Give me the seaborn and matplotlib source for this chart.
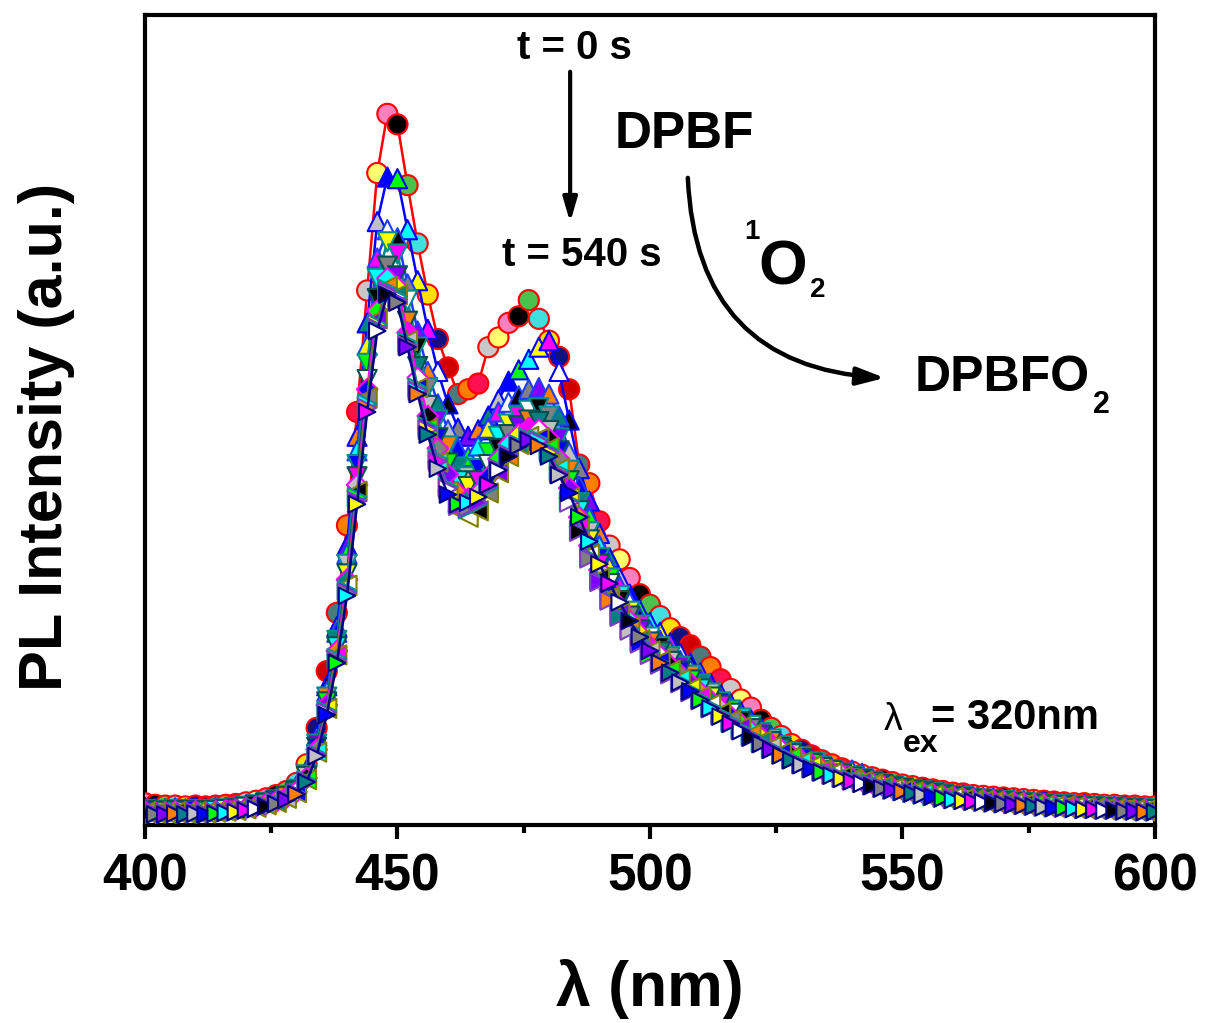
import numpy as np
import pandas as pd
import seaborn as sns
import matplotlib.pyplot as plt
from matplotlib.ticker import MultipleLocator

# ---------------- data (PL intensity, arbitrary units) ----------------
wavelength = np.arange(400, 601, 2)

t0 = [27,25,24,24,23,24,23,24,25,26,28,30,33,37,42,
      52,75,120,190,262,370,510,660,805,878,865,790,718,655,600,565,532,538,545,590,
      602,620,628,648,625,598,578,538,445,422,375,345,328,305,285,272,258,243,232,222,
      208,195,180,168,155,145,130,120,110,100,93,
      86,80,75,70,66,62,59,56,53,50,48,46,44,42,40,39,37,36,35,34,33,32,31,30,29,28,27,27,26,25,25,24,24,23,23]
t60 = [22,21,20,21,20,21,20,21,22,23,25,27,30,34,39,
       48,68,110,172,245,345,480,620,745,800,798,735,672,612,560,520,490,480,488,505,
       525,548,562,575,590,598,560,500,440,400,360,330,305,285,265,250,238,225,212,200,
       188,175,162,150,140,130,120,110,100,92,86,
       80,75,70,66,62,59,56,53,50,48,46,44,42,40,38,37,35,34,33,32,31,30,29,28,27,26,25,25,24,23,23,22,22,21,21]
t120 = [20,19,19,20,19,20,19,20,21,22,24,26,29,33,38,
        46,66,105,165,238,335,462,592,700,735,725,668,610,560,520,488,465,455,468,490,
        510,522,530,538,540,532,505,460,418,380,345,318,295,275,256,240,228,215,203,192,
        180,168,156,145,135,126,117,108,99,91,85,
        79,74,70,66,68,64,58,54,50,47,45,43,41,39,37,36,34,33,32,31,30,29,28,27,26,25,25,24,23,23,22,22,21,21,20]
t180 = [19,18,18,19,18,19,18,19,20,21,23,25,28,31,36,
        44,62,100,158,228,322,445,570,675,720,705,648,590,540,500,468,442,430,440,460,
        480,495,505,512,515,505,478,438,398,362,330,305,283,264,247,232,220,208,196,185,
        174,163,152,142,132,123,114,106,98,90,84,
        78,73,68,64,60,57,54,51,48,46,44,42,40,38,36,35,33,32,31,30,29,28,27,26,25,25,24,23,23,22,22,21,21,20,20]
t240 = [18,17,17,18,17,18,17,18,19,20,22,24,27,30,35,
        42,60,96,152,220,310,430,550,650,690,678,622,566,518,478,447,425,418,425,445,
        465,482,493,500,498,487,462,425,388,352,322,298,277,258,241,226,214,202,190,179,
        168,158,148,138,128,119,111,103,95,88,82,
        76,71,67,63,59,56,53,50,47,45,43,41,39,37,35,34,32,31,30,29,28,27,26,25,24,24,23,22,22,21,21,20,20,19,19]
t300 = [17,16,16,17,16,17,16,17,18,19,21,23,26,29,34,
        41,58,93,148,215,303,420,538,635,675,664,608,552,505,465,433,410,403,410,430,
        452,470,482,490,488,477,452,416,380,345,315,291,270,252,236,221,209,197,186,175,
        164,154,144,134,125,116,108,100,93,86,80,
        75,70,66,62,58,55,52,49,46,44,42,40,38,36,35,33,32,31,30,29,28,27,26,25,24,23,23,22,21,21,20,20,19,19,18]
t360 = [16,15,15,16,15,16,15,16,17,18,20,22,25,28,33,
        40,56,90,144,210,296,412,528,625,665,655,598,540,490,448,412,388,380,388,410,
        435,455,470,480,478,466,440,404,368,334,305,282,262,245,229,215,203,191,180,169,
        159,149,139,130,121,112,104,97,90,84,78,
        73,68,64,60,57,54,51,48,45,43,41,39,37,35,34,32,31,30,29,28,27,26,25,24,23,23,22,21,21,20,20,19,19,18,18]
t420 = [15,14,14,15,14,15,14,15,16,17,19,21,24,27,32,
        39,55,88,141,206,290,405,520,618,662,652,596,540,492,452,418,396,390,396,416,
        440,458,470,478,476,463,437,400,364,331,302,279,259,242,226,212,200,188,177,166,
        156,146,137,128,119,110,102,95,88,82,76,
        71,67,63,59,56,53,50,47,44,42,40,38,36,34,33,31,30,29,28,27,26,25,24,23,22,22,21,20,20,19,19,18,18,17,17]
t480 = [16,15,15,15,15,16,15,15,16,17,19,21,24,27,32,
        39,54,87,139,203,287,400,515,614,658,648,592,536,488,449,415,394,392,398,418,
        440,457,468,476,474,460,434,398,362,329,300,277,257,240,224,210,198,186,175,164,
        154,144,135,126,117,109,101,94,87,81,75,
        70,66,62,58,55,52,49,46,44,42,40,38,36,34,32,31,30,29,28,27,26,25,24,23,22,21,21,20,20,19,19,18,18,17,17]
t540 = [14,13,13,14,13,14,13,14,15,16,18,20,23,26,31,
        38,53,85,136,200,283,396,510,610,655,645,590,532,482,440,408,396,398,405,420,
        438,455,468,475,468,455,432,410,380,350,322,298,275,252,232,215,200,188,176,165,
        154,144,134,125,116,108,100,93,86,80,74,
        69,65,61,57,54,51,48,45,43,41,39,37,35,33,31,30,29,28,27,26,25,24,23,22,21,21,20,19,19,18,18,17,17,16,16]

x_ticks = [400, 450, 500, 550, 600]

# ---------------- styles ----------------
circle_faces = ['#FF80C0', '#000000', '#4CC24C', '#40E0E0', '#FFE000', '#101080',
                '#D00000', '#4A7A7A', '#FF8000', '#FF1050', '#C8C8C8', '#FFFF70']
tri_faces = ['#0000FF', '#00FF00', '#00FFFF', '#FFFF00', '#FF00FF', '#FFFFFF',
             '#000000', '#808080', '#8000FF', '#FF8000', '#008080', '#C0C0C0']

series = [
    (t0,   '#FF0000', 'o', 210, circle_faces, 0),
    (t60,  '#0000FF', '^', 190, tri_faces, 0),
    (t120, '#1E3CFF', '^', 190, tri_faces, 5),
    (t180, '#008B8B', 'v', 190, tri_faces, 3),
    (t240, '#005050', 'v', 190, tri_faces, 7),
    (t300, '#FF00FF', 'D', 110, tri_faces, 2),
    (t360, '#808000', '<', 190, tri_faces, 9),
    (t420, '#009090', '>', 180, tri_faces, 4),
    (t480, '#7B3FBF', '>', 170, tri_faces, 11),
    (t540, '#000080', '>', 140, tri_faces, 6),
]

sns.set_theme(style='ticks')
plt.rcParams['font.family'] = ['Liberation Sans', 'DejaVu Sans']
plt.rcParams['font.weight'] = 'bold'
plt.rcParams['text.color'] = 'black'
plt.rcParams['xtick.color'] = 'black'
plt.rcParams['axes.labelcolor'] = 'black'

fig = plt.figure(figsize=(12.1, 10.23), dpi=100)
ax = fig.add_axes([0.1198, 0.1935, 0.8347, 0.7918])

for k, (vals, col, mk, size, faces, off) in enumerate(series):
    df = pd.DataFrame({'x': wavelength, 'y': vals})
    df['fc'] = ['c%d' % ((i + off) % len(faces)) for i in range(len(df))]
    pal = {'c%d' % j: c for j, c in enumerate(faces)}
    sns.lineplot(data=df, x='x', y='y', color=col, linewidth=1.8, ax=ax,
                 zorder=2 + 2 * k, legend=False)
    sns.scatterplot(data=df, x='x', y='y', hue='fc', palette=pal, marker=mk, s=size,
                    edgecolor=col, linewidth=1.5, ax=ax, legend=False, zorder=3 + 2 * k)

ax.set_xlim(400, 600)
ax.set_ylim(0, 1000)
ax.set_yticks([])
ax.set_xticks(x_ticks)
ax.xaxis.set_minor_locator(MultipleLocator(25))
ax.tick_params(axis='x', which='major', direction='out', length=10, width=3,
               labelsize=37, pad=10)
ax.tick_params(axis='x', which='minor', direction='out', length=6, width=3)
for lbl in ax.get_xticklabels():
    lbl.set_fontweight('bold')
for sp in ax.spines.values():
    sp.set_visible(True)
    sp.set_linewidth(3)
    sp.set_color('black')

ax.set_xlabel('λ (nm)', fontsize=45, fontweight='bold')
ax.xaxis.set_label_coords(0.5, -0.165)
ax.set_ylabel('PL Intensity (a.u.)', fontsize=44, fontweight='bold')
ax.yaxis.set_label_coords(-0.069, 0.479)

# ---------------- annotations ----------------
ax.text(485.1, 959, 't = 0 s', fontsize=29, fontweight='bold', ha='center', va='center')
ax.annotate('', xy=(484.2, 744), xytext=(484.2, 930),
            arrowprops=dict(arrowstyle='-|>,head_width=0.35,head_length=1.2',
                            lw=3, color='black', shrinkA=0, shrinkB=0))
ax.text(486.5, 704, 't = 540 s', fontsize=29, fontweight='bold', ha='center', va='center')
ax.text(506.9, 852, 'DPBF', fontsize=37, fontweight='bold', ha='center', va='center')
ax.annotate('', xy=(546.5, 552), xytext=(507.5, 799),
            arrowprops=dict(arrowstyle='-|>,head_width=0.45,head_length=1.4',
                            lw=3.2, color='black', shrinkA=0, shrinkB=0,
                            connectionstyle='arc3,rad=0.45'))
ax.text(520.2, 732, '1', fontsize=20, fontweight='bold', ha='center', va='center')
ax.text(526.3, 688, 'O', fontsize=45, fontweight='bold', ha='center', va='center')
ax.text(533.3, 660, '2', fontsize=20, fontweight='bold', ha='center', va='center')
ax.text(552.5, 552, 'DPBFO', fontsize=36, fontweight='bold', ha='left', va='center')
ax.text(587.7, 518, '2', fontsize=22, fontweight='bold', ha='left', va='center')
ax.text(546.3, 130, 'λ', fontsize=27, fontweight='normal', ha='left', va='center')
ax.text(550.0, 100, 'ex', fontsize=23, fontweight='bold', ha='left', va='center')
ax.text(555.6, 132, '= 320nm', fontsize=30, fontweight='bold', ha='left', va='center')

fig.savefig('out.png', dpi=100)
